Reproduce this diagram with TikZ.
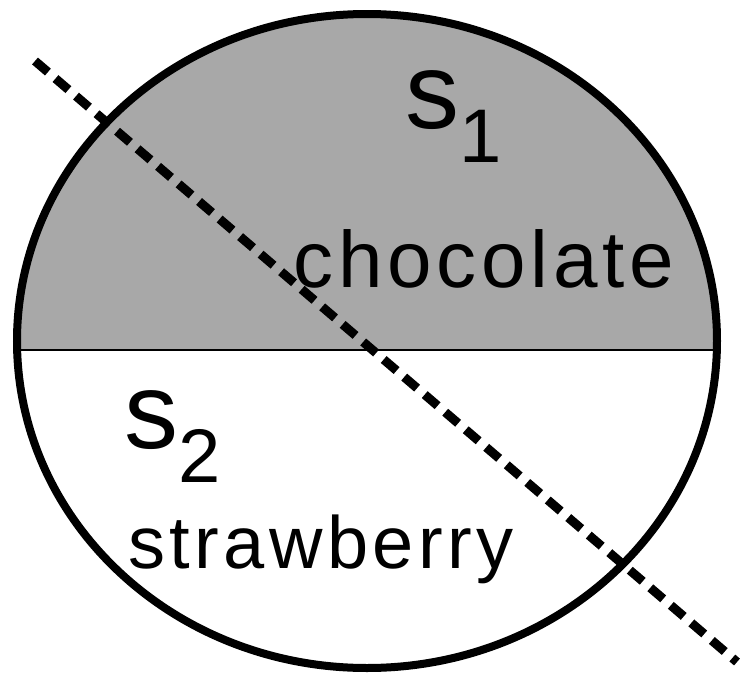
\documentclass[tikz,border=0pt]{standalone}
\usepackage{fontspec}
\usepackage{xcolor}
\usepackage{tikz}
\setmainfont{Liberation Sans}
\newfontfamily\flavfont{Liberation Sans}[LetterSpace=6]
\definecolor{chocgray}{RGB}{168,168,168}
\newcommand{\sset}[1]{{\fontsize{54}{54}\selectfont s}\raisebox{-17pt}{\fontsize{38}{38}\selectfont #1}}

\begin{document}
\begin{tikzpicture}[x=0.5pt, y=-0.5pt,
      rim/.style={line width=4pt},
      cut/.style={line width=4.5pt, dash pattern=on 8.5pt off 5pt},
      lbl/.style={inner sep=0pt, anchor=base west},
      word/.style={lbl, font=\flavfont\fontsize{40}{40}\selectfont}
    ]
    \useasboundingbox (0,0) rectangle (740,675);
    % Shaded half (chocolate)
    \begin{scope}
      \clip (0,0) rectangle (740,350);
      \fill[chocgray] (367,341) ellipse [x radius=175pt, y radius=163.5pt];
    \end{scope}
    \draw[line width=1pt] (17,350) -- (717,350);
    \draw[rim] (367,341) ellipse [x radius=175pt, y radius=163.5pt];
    % Labels
    \node[lbl]  (s1)    at (405,128) {\sset{1}};
    \node[word] (choc)  at (293,287) {chocolate};
    \node[lbl]  (s2)    at (124,448) {\sset{2}};
    \node[word, font=\flavfont\fontsize{37}{37}\selectfont]
                (straw) at (128,568) {strawberry};
    % Cutting line
    \coordinate (cutA) at (35,61);
    \coordinate (cutB) at (737,662);
    \draw[cut] (cutA) -- (cutB);
  \end{tikzpicture}
\end{document}
